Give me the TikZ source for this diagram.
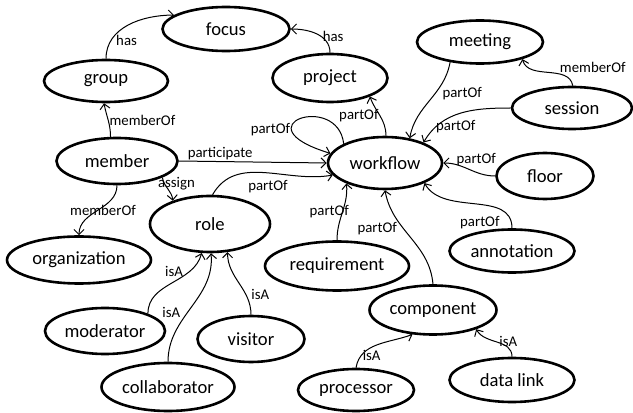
\documentclass[tikz,border=0pt]{standalone}
\usepackage{fontspec}
\setmainfont{Carlito}
\usetikzlibrary{shapes.geometric,arrows.meta}

\begin{document}
\begin{tikzpicture}[x=1pt, y=1pt,
    concept/.style={ellipse, draw=black, line width=2.6pt, inner sep=0pt, font=\fontsize{18.6}{20}\selectfont},
    rel/.style={->, line width=1pt},
    lbl/.style={font=\fontsize{14.8}{16}\selectfont, inner sep=1pt},
    >={Straight Barb[length=5pt,width=10pt]}]
    \useasboundingbox (0,0) rectangle (633,413);

    \node[concept, minimum width=127pt, minimum height=44pt] (focus) at (226,384) {focus};
    \node[concept, minimum width=124pt, minimum height=42pt] (group) at (106,332) {group};
    \node[concept, minimum width=115pt, minimum height=48pt] (project) at (330,335) {project};
    \node[concept, minimum width=126pt, minimum height=43pt] (meeting) at (480,371) {meeting};
    \node[concept, minimum width=120pt, minimum height=42pt] (session) at (572,305) {session};
    \node[concept, minimum width=121pt, minimum height=46pt] (member) at (117,252) {member};
    \node[concept, minimum width=114pt, minimum height=52pt] (workflow) at (385,250) {workflow};
    \node[concept, minimum width=97pt, minimum height=46pt] (floor) at (545,237) {floor};
    \node[concept, minimum width=120pt, minimum height=56pt] (role) at (210,189) {role};
    \node[concept, minimum width=144pt, minimum height=47pt] (organization) at (79,153) {organization};
    \node[concept, minimum width=144pt, minimum height=49pt] (requirement) at (337,147) {requirement};
    \node[concept, minimum width=125pt, minimum height=43pt] (annotation) at (512,162) {annotation};
    \node[concept, minimum width=127pt, minimum height=49pt] (component) at (433,103) {component};
    \node[concept, minimum width=120pt, minimum height=46pt] (moderator) at (105,82) {moderator};
    \node[concept, minimum width=107pt, minimum height=46pt] (visitor) at (251,74) {visitor};
    \node[concept, minimum width=133pt, minimum height=48pt] (collaborator) at (168,26) {collaborator};
    \node[concept, minimum width=116pt, minimum height=42pt] (processor) at (356,23) {processor};
    \node[concept, minimum width=125pt, minimum height=44pt] (datalink) at (512,33) {data link};

    \draw[rel] (group.north) to[out=90, in=180] node[lbl, pos=0.3, right, yshift=-5pt] {has} (focus.165);
    \draw[rel] (project.north) to[out=90, in=0] node[lbl, pos=0.4, right] {has} (focus.east);

    \draw[rel] (member.105) to[out=90, in=-80] node[lbl, midway, right] {memberOf} (group.265);
    \draw[rel] (member.south) to[out=-90, in=90] node[lbl, midway, xshift=5pt] {memberOf} (organization.north);
    \draw[rel] (member.east) -- node[lbl, pos=0.28, above] {participate} (workflow.west);
    \draw[rel] (member.-20) to[out=-80, in=95] node[lbl, pos=0.25, right, xshift=-8pt] {assign} (role.148);

    \draw[rel] (role.85) to[out=60, in=190] node[lbl, pos=0.5, below, xshift=4pt, yshift=-6pt] {partOf} (workflow.193);
    \draw[rel] (workflow.155) .. controls +(-6,52) and +(-92,28) .. node[lbl, pos=0.7, left] {partOf} (workflow.170);
    \draw[rel] (workflow.88) to[out=90, in=-70] node[lbl, midway, left] {partOf} (project.-25);
    \draw[rel] (meeting.-146) to[out=-100, in=80] node[lbl, pos=0.4, right, xshift=6pt] {partOf} (workflow.45);
    \draw[rel] (session.88) to[out=100, in=-75] node[lbl, pos=0.15, above, xshift=24pt, yshift=4pt] {memberOf} (meeting.-22);
    \draw[rel] (session.west) to[out=180, in=60] node[lbl, pos=0.55, below, yshift=-4pt] {partOf} (workflow.28);
    \draw[rel] (floor.west) to[out=180, in=0] node[lbl, pos=0.35, above, yshift=5pt] {partOf} (workflow.east);
    \draw[rel] (annotation.north) to[out=90, in=-60] node[lbl, pos=0.25, below left, yshift=-5pt] {partOf} (workflow.-27);
    \draw[rel] (requirement.north) to[out=90, in=-85] node[lbl, midway, left, xshift=8pt] {partOf} (workflow.-152);
    \draw[rel] (component.north) to[out=95, in=-80] node[lbl, midway, left, xshift=-12pt, yshift=8pt] {partOf} (workflow.-90);

    \draw[rel] (moderator.22) to[out=90, in=-105] node[lbl, pos=0.55, left, xshift=9pt, yshift=9pt] {isA} (role.-106);
    \draw[rel] (collaborator.north) to[out=90, in=-85] node[lbl, pos=0.45, left, xshift=-6pt] {isA} (role.-88);
    \draw[rel] (visitor.north) to[out=90, in=-90] node[lbl, pos=0.3, right, xshift=4pt] {isA} (role.-58);
    \draw[rel] (processor.north) to[out=80, in=200] node[lbl, pos=0.2, right] {isA} (component.-130);
    \draw[rel] (datalink.north) to[out=90, in=-60] node[lbl, pos=0.4, right, xshift=-4pt, yshift=2pt] {isA} (component.-24);
\end{tikzpicture}
\end{document}
